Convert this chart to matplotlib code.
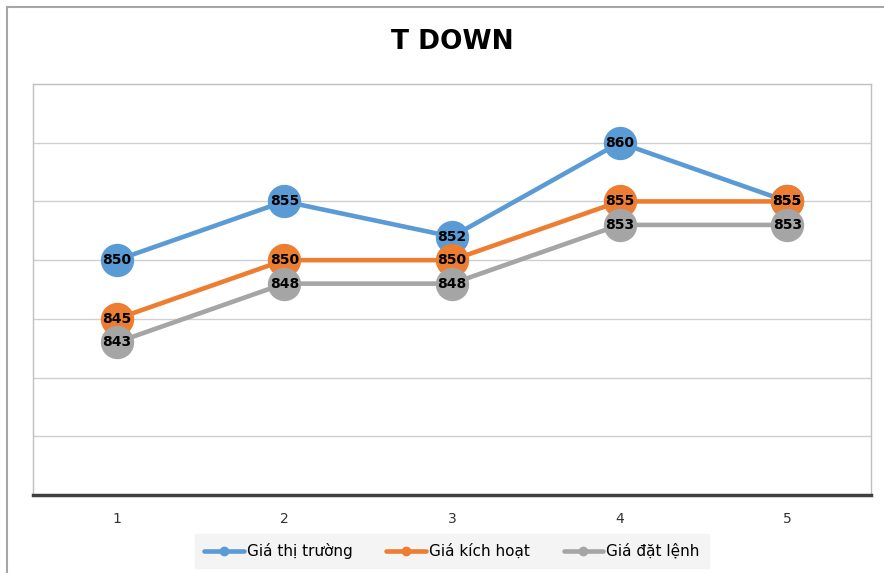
import matplotlib
matplotlib.use("Agg")
import matplotlib.pyplot as plt
from matplotlib.lines import Line2D

x = [1, 2, 3, 4, 5]
series_names = ["Giá thị trường", "Giá kích hoạt", "Giá đặt lệnh"]
thi_truong = [850, 855, 852, 860, 855]
kich_hoat = [845, 850, 850, 855, 855]
dat_lenh = [843, 848, 848, 853, 853]
colors = ["#5B9BD5", "#ED7D31", "#A5A5A5"]
title = "T DOWN"

plt.rcParams['font.family'] = ['DejaVu Sans']

fig = plt.figure(figsize=(8.84, 5.73), dpi=100)
ax = fig.add_axes([33/884, 1-495/573, (871-33)/884, (495-84)/573])

for vals, c, name in zip([thi_truong, kich_hoat, dat_lenh], colors, series_names):
    ax.plot(x, vals, color=c, lw=3.3, marker='o', markersize=23,
            markeredgecolor=c, label=name, zorder=3, solid_capstyle='round')
for vals in [thi_truong, kich_hoat, dat_lenh]:
    for xi, v in zip(x, vals):
        ax.text(xi, v, f"{v}", ha='center', va='center', fontsize=10,
                fontweight='bold', color='black', zorder=5)

ax.set_xlim(0.5, 5.5)
ax.set_ylim(830, 865)
ax.set_yticks([835, 840, 845, 850, 855, 860])
ax.yaxis.grid(True, color='#D0D0D0', lw=1)
ax.set_axisbelow(True)
ax.tick_params(axis='y', left=False, labelleft=False)
ax.set_xticks(x)
ax.set_xticklabels([str(i) for i in x])
ax.tick_params(axis='x', length=0, pad=12, labelsize=10, colors='#333333')
for s in ['left', 'right', 'top']:
    ax.spines[s].set_color('#BFBFBF')
    ax.spines[s].set_linewidth(1)
ax.spines['bottom'].set_color('#404040')
ax.spines['bottom'].set_linewidth(2.5)

fig.text(452/884, 1-42/573, title, ha='center', va='center', fontsize=19,
         fontweight='bold', color='black')

leg = fig.legend(loc='center', bbox_to_anchor=(452/884, 1-551/573), ncol=3,
                 frameon=True, fontsize=11, markerscale=0.3,
                 handlelength=2.6, handletextpad=0.2, columnspacing=2.2,
                 borderpad=0.6, borderaxespad=0)
leg.get_frame().set_facecolor('#F2F2F2')
leg.get_frame().set_edgecolor('#F2F2F2')
leg.get_frame().set_boxstyle('square', pad=0)
for h in leg.legend_handles:
    h.set_markersize(6)

fig.add_artist(Line2D([7/884, 7/884], [0, 1-7/573], transform=fig.transFigure,
                      color='#A6A6A6', lw=1.5))
fig.add_artist(Line2D([7/884, 1], [1-7/573, 1-7/573], transform=fig.transFigure,
                      color='#A6A6A6', lw=1.5))

fig.savefig("out.png", dpi=100)
